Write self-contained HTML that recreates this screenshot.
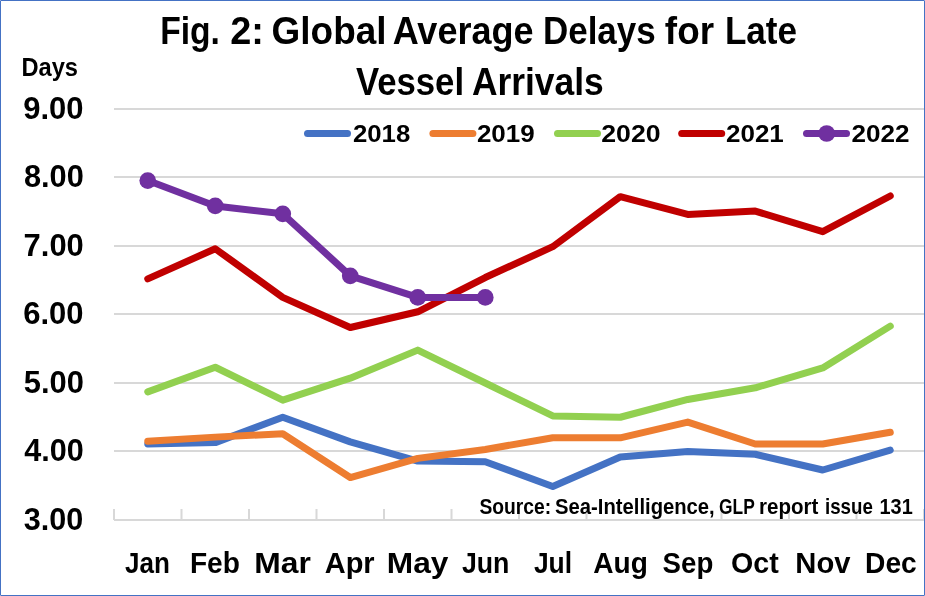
<!DOCTYPE html>
<html lang="en"><head><meta charset="utf-8"><title>Fig. 2: Global Average Delays for Late Vessel Arrivals</title>
<style>html,body{margin:0;padding:0;background:#fff}body{width:925px;height:596px;overflow:hidden}svg{display:block}text{font-family:"Liberation Sans",sans-serif;font-weight:bold;fill:#000;white-space:pre}</style></head><body>
<svg width="925" height="596" viewBox="0 0 925 596">
<rect x="0" y="0" width="925" height="596" fill="#fff"/>
<rect x="114" y="108" width="810" height="2" fill="#D8D8D8"/>
<rect x="114" y="176" width="810" height="2" fill="#D8D8D8"/>
<rect x="114" y="245" width="810" height="2" fill="#D8D8D8"/>
<rect x="114" y="313" width="810" height="2" fill="#D8D8D8"/>
<rect x="114" y="382" width="810" height="2" fill="#D8D8D8"/>
<rect x="114" y="450" width="810" height="2" fill="#D8D8D8"/>
<rect x="114" y="519" width="810" height="2" fill="#D8D8D8"/>
<rect x="113.00" y="509" width="2" height="11" fill="#D8D8D8"/>
<rect x="180.50" y="509" width="2" height="11" fill="#D8D8D8"/>
<rect x="248.00" y="509" width="2" height="11" fill="#D8D8D8"/>
<rect x="315.50" y="509" width="2" height="11" fill="#D8D8D8"/>
<rect x="383.00" y="509" width="2" height="11" fill="#D8D8D8"/>
<rect x="450.50" y="509" width="2" height="11" fill="#D8D8D8"/>
<rect x="518.00" y="509" width="2" height="11" fill="#D8D8D8"/>
<rect x="585.50" y="509" width="2" height="11" fill="#D8D8D8"/>
<rect x="653.00" y="509" width="2" height="11" fill="#D8D8D8"/>
<rect x="720.50" y="509" width="2" height="11" fill="#D8D8D8"/>
<rect x="788.00" y="509" width="2" height="11" fill="#D8D8D8"/>
<rect x="855.50" y="509" width="2" height="11" fill="#D8D8D8"/>
<rect x="923.00" y="509" width="2" height="11" fill="#D8D8D8"/>
<polyline points="147.75,443.96 215.25,442.60 282.75,417.25 350.25,441.91 417.75,461.09 485.25,461.77 552.75,486.44 620.25,456.98 687.75,451.50 755.25,454.24 822.75,470.00 890.25,450.13" fill="none" stroke="#4472C4" stroke-width="7.0" stroke-linecap="round" stroke-linejoin="round"/>
<polyline points="147.75,441.22 215.25,437.12 282.75,433.69 350.25,477.53 417.75,458.35 485.25,449.44 552.75,437.80 620.25,437.80 687.75,422.05 755.25,443.96 822.75,443.96 890.25,432.32" fill="none" stroke="#ED7D31" stroke-width="7.0" stroke-linecap="round" stroke-linejoin="round"/>
<polyline points="147.75,391.90 215.25,367.25 282.75,400.12 350.25,378.20 417.75,350.12 485.25,383.00 552.75,415.88 620.25,417.25 687.75,399.44 755.25,387.80 822.75,367.93 890.25,326.14" fill="none" stroke="#92D050" stroke-width="7.0" stroke-linecap="round" stroke-linejoin="round"/>
<polyline points="147.75,278.88 215.25,248.74 282.75,297.38 350.25,327.51 417.75,311.76 485.25,277.51 552.75,246.69 620.25,196.68 687.75,214.49 755.25,211.06 822.75,231.62 890.25,195.99" fill="none" stroke="#C00000" stroke-width="7.0" stroke-linecap="round" stroke-linejoin="round"/>
<polyline points="147.75,180.58 215.25,205.93 282.75,213.81 350.25,275.80 417.75,297.38 485.25,297.38" fill="none" stroke="#7030A0" stroke-width="7.0" stroke-linecap="round" stroke-linejoin="round"/>
<circle cx="147.75" cy="180.58" r="8.35" fill="#7030A0"/>
<circle cx="215.25" cy="205.93" r="8.35" fill="#7030A0"/>
<circle cx="282.75" cy="213.81" r="8.35" fill="#7030A0"/>
<circle cx="350.25" cy="275.80" r="8.35" fill="#7030A0"/>
<circle cx="417.75" cy="297.38" r="8.35" fill="#7030A0"/>
<circle cx="485.25" cy="297.38" r="8.35" fill="#7030A0"/>
<line x1="307.50" y1="133.5" x2="347.50" y2="133.5" stroke="#4472C4" stroke-width="7.0" stroke-linecap="round"/>
<line x1="432.90" y1="133.5" x2="472.90" y2="133.5" stroke="#ED7D31" stroke-width="7.0" stroke-linecap="round"/>
<line x1="557.50" y1="133.5" x2="597.50" y2="133.5" stroke="#92D050" stroke-width="7.0" stroke-linecap="round"/>
<line x1="681.70" y1="133.5" x2="721.70" y2="133.5" stroke="#C00000" stroke-width="7.0" stroke-linecap="round"/>
<line x1="806.50" y1="133.5" x2="846.50" y2="133.5" stroke="#7030A0" stroke-width="7.0" stroke-linecap="round"/>
<circle cx="826.7" cy="133.5" r="8.35" fill="#7030A0"/>
<text y="43.8" font-size="38.4"><tspan x="160.15" textLength="59.77" lengthAdjust="spacingAndGlyphs">Fig.</tspan> <tspan x="230.23" textLength="33.68" lengthAdjust="spacingAndGlyphs">2:</tspan> <tspan x="271.60" textLength="114.92" lengthAdjust="spacingAndGlyphs">Global</tspan> <tspan x="392.69" textLength="140.83" lengthAdjust="spacingAndGlyphs">Average</tspan> <tspan x="542.92" textLength="112.82" lengthAdjust="spacingAndGlyphs">Delays</tspan> <tspan x="664.87" textLength="49.16" lengthAdjust="spacingAndGlyphs">for</tspan> <tspan x="724.89" textLength="72.13" lengthAdjust="spacingAndGlyphs">Late</tspan></text>
<text y="94.6" font-size="38.4"><tspan x="355.89" textLength="108.18" lengthAdjust="spacingAndGlyphs">Vessel</tspan> <tspan x="471.88" textLength="131.88" lengthAdjust="spacingAndGlyphs">Arrivals</tspan></text>
<text y="75.8" font-size="25.2"><tspan x="21.41" textLength="56.64" lengthAdjust="spacingAndGlyphs">Days</tspan></text>
<text y="514.1" font-size="21.8"><tspan x="479.39" textLength="71.71" lengthAdjust="spacingAndGlyphs">Source:</tspan> <tspan x="555.10" textLength="159.61" lengthAdjust="spacingAndGlyphs">Sea-Intelligence,</tspan> <tspan x="719.07" textLength="35.38" lengthAdjust="spacingAndGlyphs">GLP</tspan> <tspan x="759.12" textLength="59.33" lengthAdjust="spacingAndGlyphs">report</tspan> <tspan x="825.01" textLength="47.79" lengthAdjust="spacingAndGlyphs">issue</tspan> <tspan x="879.53" textLength="33.22" lengthAdjust="spacingAndGlyphs">131</tspan></text>
<text y="573.1" font-size="29.3"><tspan x="124.95" textLength="44.84" lengthAdjust="spacingAndGlyphs">Jan</tspan> <tspan x="189.93" textLength="49.94" lengthAdjust="spacingAndGlyphs">Feb</tspan> <tspan x="254.23" textLength="56.57" lengthAdjust="spacingAndGlyphs">Mar</tspan> <tspan x="324.69" textLength="49.95" lengthAdjust="spacingAndGlyphs">Apr</tspan> <tspan x="386.76" textLength="61.62" lengthAdjust="spacingAndGlyphs">May</tspan> <tspan x="461.89" textLength="47.50" lengthAdjust="spacingAndGlyphs">Jun</tspan> <tspan x="533.91" textLength="38.20" lengthAdjust="spacingAndGlyphs">Jul</tspan> <tspan x="593.24" textLength="54.58" lengthAdjust="spacingAndGlyphs">Aug</tspan> <tspan x="662.61" textLength="50.67" lengthAdjust="spacingAndGlyphs">Sep</tspan> <tspan x="730.99" textLength="47.68" lengthAdjust="spacingAndGlyphs">Oct</tspan> <tspan x="795.37" textLength="55.16" lengthAdjust="spacingAndGlyphs">Nov</tspan> <tspan x="865.09" textLength="51.69" lengthAdjust="spacingAndGlyphs">Dec</tspan></text>
<text y="119.3" font-size="30.8"><tspan x="23.28" textLength="60.34" lengthAdjust="spacingAndGlyphs">9.00</tspan></text>
<text y="187.3" font-size="30.8"><tspan x="23.89" textLength="59.92" lengthAdjust="spacingAndGlyphs">8.00</tspan></text>
<text y="256.3" font-size="30.8"><tspan x="23.62" textLength="60.19" lengthAdjust="spacingAndGlyphs">7.00</tspan></text>
<text y="324.3" font-size="30.8"><tspan x="23.25" textLength="60.37" lengthAdjust="spacingAndGlyphs">6.00</tspan></text>
<text y="393.3" font-size="30.8"><tspan x="23.75" textLength="60.11" lengthAdjust="spacingAndGlyphs">5.00</tspan></text>
<text y="461.3" font-size="30.8"><tspan x="24.13" textLength="59.53" lengthAdjust="spacingAndGlyphs">4.00</tspan></text>
<text y="530.3" font-size="30.8"><tspan x="23.67" textLength="59.55" lengthAdjust="spacingAndGlyphs">3.00</tspan></text>
<text y="141.7" font-size="24"><tspan x="352.97" textLength="57.28" lengthAdjust="spacingAndGlyphs">2018</tspan></text>
<text y="141.7" font-size="24"><tspan x="476.93" textLength="57.78" lengthAdjust="spacingAndGlyphs">2019</tspan></text>
<text y="141.7" font-size="24"><tspan x="601.30" textLength="59.29" lengthAdjust="spacingAndGlyphs">2020</tspan></text>
<text y="141.7" font-size="24"><tspan x="726.04" textLength="57.78" lengthAdjust="spacingAndGlyphs">2021</tspan></text>
<text y="141.7" font-size="24"><tspan x="851.55" textLength="57.99" lengthAdjust="spacingAndGlyphs">2022</tspan></text>
<rect x="0.5" y="0.5" width="924" height="595" fill="none" stroke="#4472C4" stroke-width="1"/>
<rect x="0" y="0" width="1" height="1" fill="#8AA6DB"/>
<rect x="924" y="0" width="1" height="1" fill="#8AA6DB"/>
<rect x="0" y="595" width="1" height="1" fill="#8AA6DB"/>
<rect x="924" y="595" width="1" height="1" fill="#8AA6DB"/>
</svg></body></html>
